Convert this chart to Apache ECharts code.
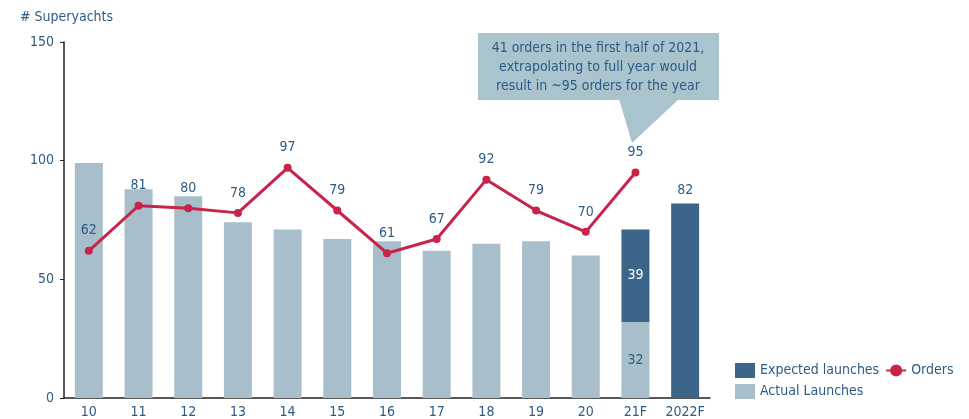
<!DOCTYPE html>
<html>
<head>
<meta charset="utf-8">
<script src="https://cdn.jsdelivr.net/npm/echarts@6/dist/echarts.min.js"></script>
<style>
  html, body { margin: 0; padding: 0; background: #fff; }
  #chart { width: 969px; height: 419px; }
</style>
</head>
<body>
<div id="chart"></div>
<script>
// categories and values
const years = ['10', '11', '12', '13', '14', '15', '16', '17', '18', '19', '20', '21F', '2022F'];
const actualLaunches = [99, 88, 85, 74, 71, 67, 66, 62, 65, 66, 60, 32, '-'];
const expectedLaunches = ['-', '-', '-', '-', '-', '-', '-', '-', '-', '-', '-', 39, 82];
const orders = [62, 81, 80, 78, 97, 79, 61, 67, 92, 79, 70, 95, '-'];
const calloutLines = [
  '41 orders in the first half of 2021,',
  'extrapolating to full year would',
  'result in ~95 orders for the year'
];

const textBlue = '#2d5b85';
const lightBar = '#a8bfcb';
const darkBar = '#3b6589';
const red = '#c8234a';
const font = '"DejaVu Sans Condensed", Roboto, sans-serif';

const chart = echarts.init(document.getElementById('chart'));

chart.setOption({
  animation: false,
  textStyle: { fontFamily: font, color: textBlue },
  grid: { left: 64, right: 259, top: 42, bottom: 21, containLabel: false },
  legend: {
    left: 730,
    top: 358,
    width: 235,
    itemWidth: 20,
    itemHeight: 15,
    itemGap: 6,
    textStyle: { color: textBlue, fontSize: 14, fontFamily: font },
    data: [
      { name: 'Expected launches', icon: 'rect' },
      { name: 'Orders', itemStyle: { borderWidth: 0 } },
      { name: 'Actual Launches', icon: 'rect' }
    ]
  },
  xAxis: {
    type: 'category',
    data: years,
    axisLine: { lineStyle: { color: '#222', width: 1.5 } },
    axisTick: { show: false },
    axisLabel: { color: textBlue, fontSize: 14, margin: 7, interval: 0 }
  },
  yAxis: {
    type: 'value',
    min: 0,
    max: 150,
    interval: 50,
    name: '# Superyachts',
    nameLocation: 'end',
    nameGap: 18,
    nameTextStyle: { color: textBlue, fontSize: 14, align: 'left', padding: [0, 0, 0, -44] },
    axisLine: { show: true, lineStyle: { color: '#222', width: 1.5 } },
    axisTick: { show: true, length: 4, lineStyle: { color: '#222' } },
    axisLabel: { color: textBlue, fontSize: 14, margin: 10 },
    splitLine: { show: false }
  },
  series: [
    {
      name: 'Actual Launches',
      type: 'bar',
      stack: 'launches',
      barWidth: 28,
      itemStyle: { color: lightBar },
      data: actualLaunches.map((v, i) => ({
        value: v,
        label: {
          show: i === 11,
          position: 'inside',
          color: textBlue,
          fontSize: 14
        }
      }))
    },
    {
      name: 'Expected launches',
      type: 'bar',
      stack: 'launches',
      barWidth: 28,
      itemStyle: { color: darkBar },
      data: expectedLaunches.map((v, i) => ({
        value: v,
        label: i === 11
          ? { show: true, position: 'inside', color: '#fff', fontSize: 14 }
          : { show: v !== '-', position: 'top', color: textBlue, fontSize: 14, distance: 6 }
      }))
    },
    {
      name: 'Orders',
      type: 'line',
      data: orders,
      z: 5,
      symbol: 'circle',
      symbolSize: 8,
      lineStyle: { color: red, width: 3 },
      itemStyle: { color: red },
      label: { show: true, position: 'top', distance: 9, color: textBlue, fontSize: 14 }
    }
  ],
  graphic: [
    {
      type: 'polygon',
      shape: { points: [[619, 99], [679, 99], [632, 143]] },
      style: { fill: '#a9c4cd' }
    },
    {
      type: 'rect',
      shape: { x: 478, y: 33, width: 241, height: 67 },
      style: { fill: '#a9c4cd' }
    },
    {
      type: 'text',
      x: 598,
      y: 39,
      style: {
        text: calloutLines.join('\n'),
        align: 'center',
        verticalAlign: 'top',
        fill: textBlue,
        font: '14px ' + font,
        lineHeight: 19
      }
    }
  ]
});
</script>
</body>
</html>
